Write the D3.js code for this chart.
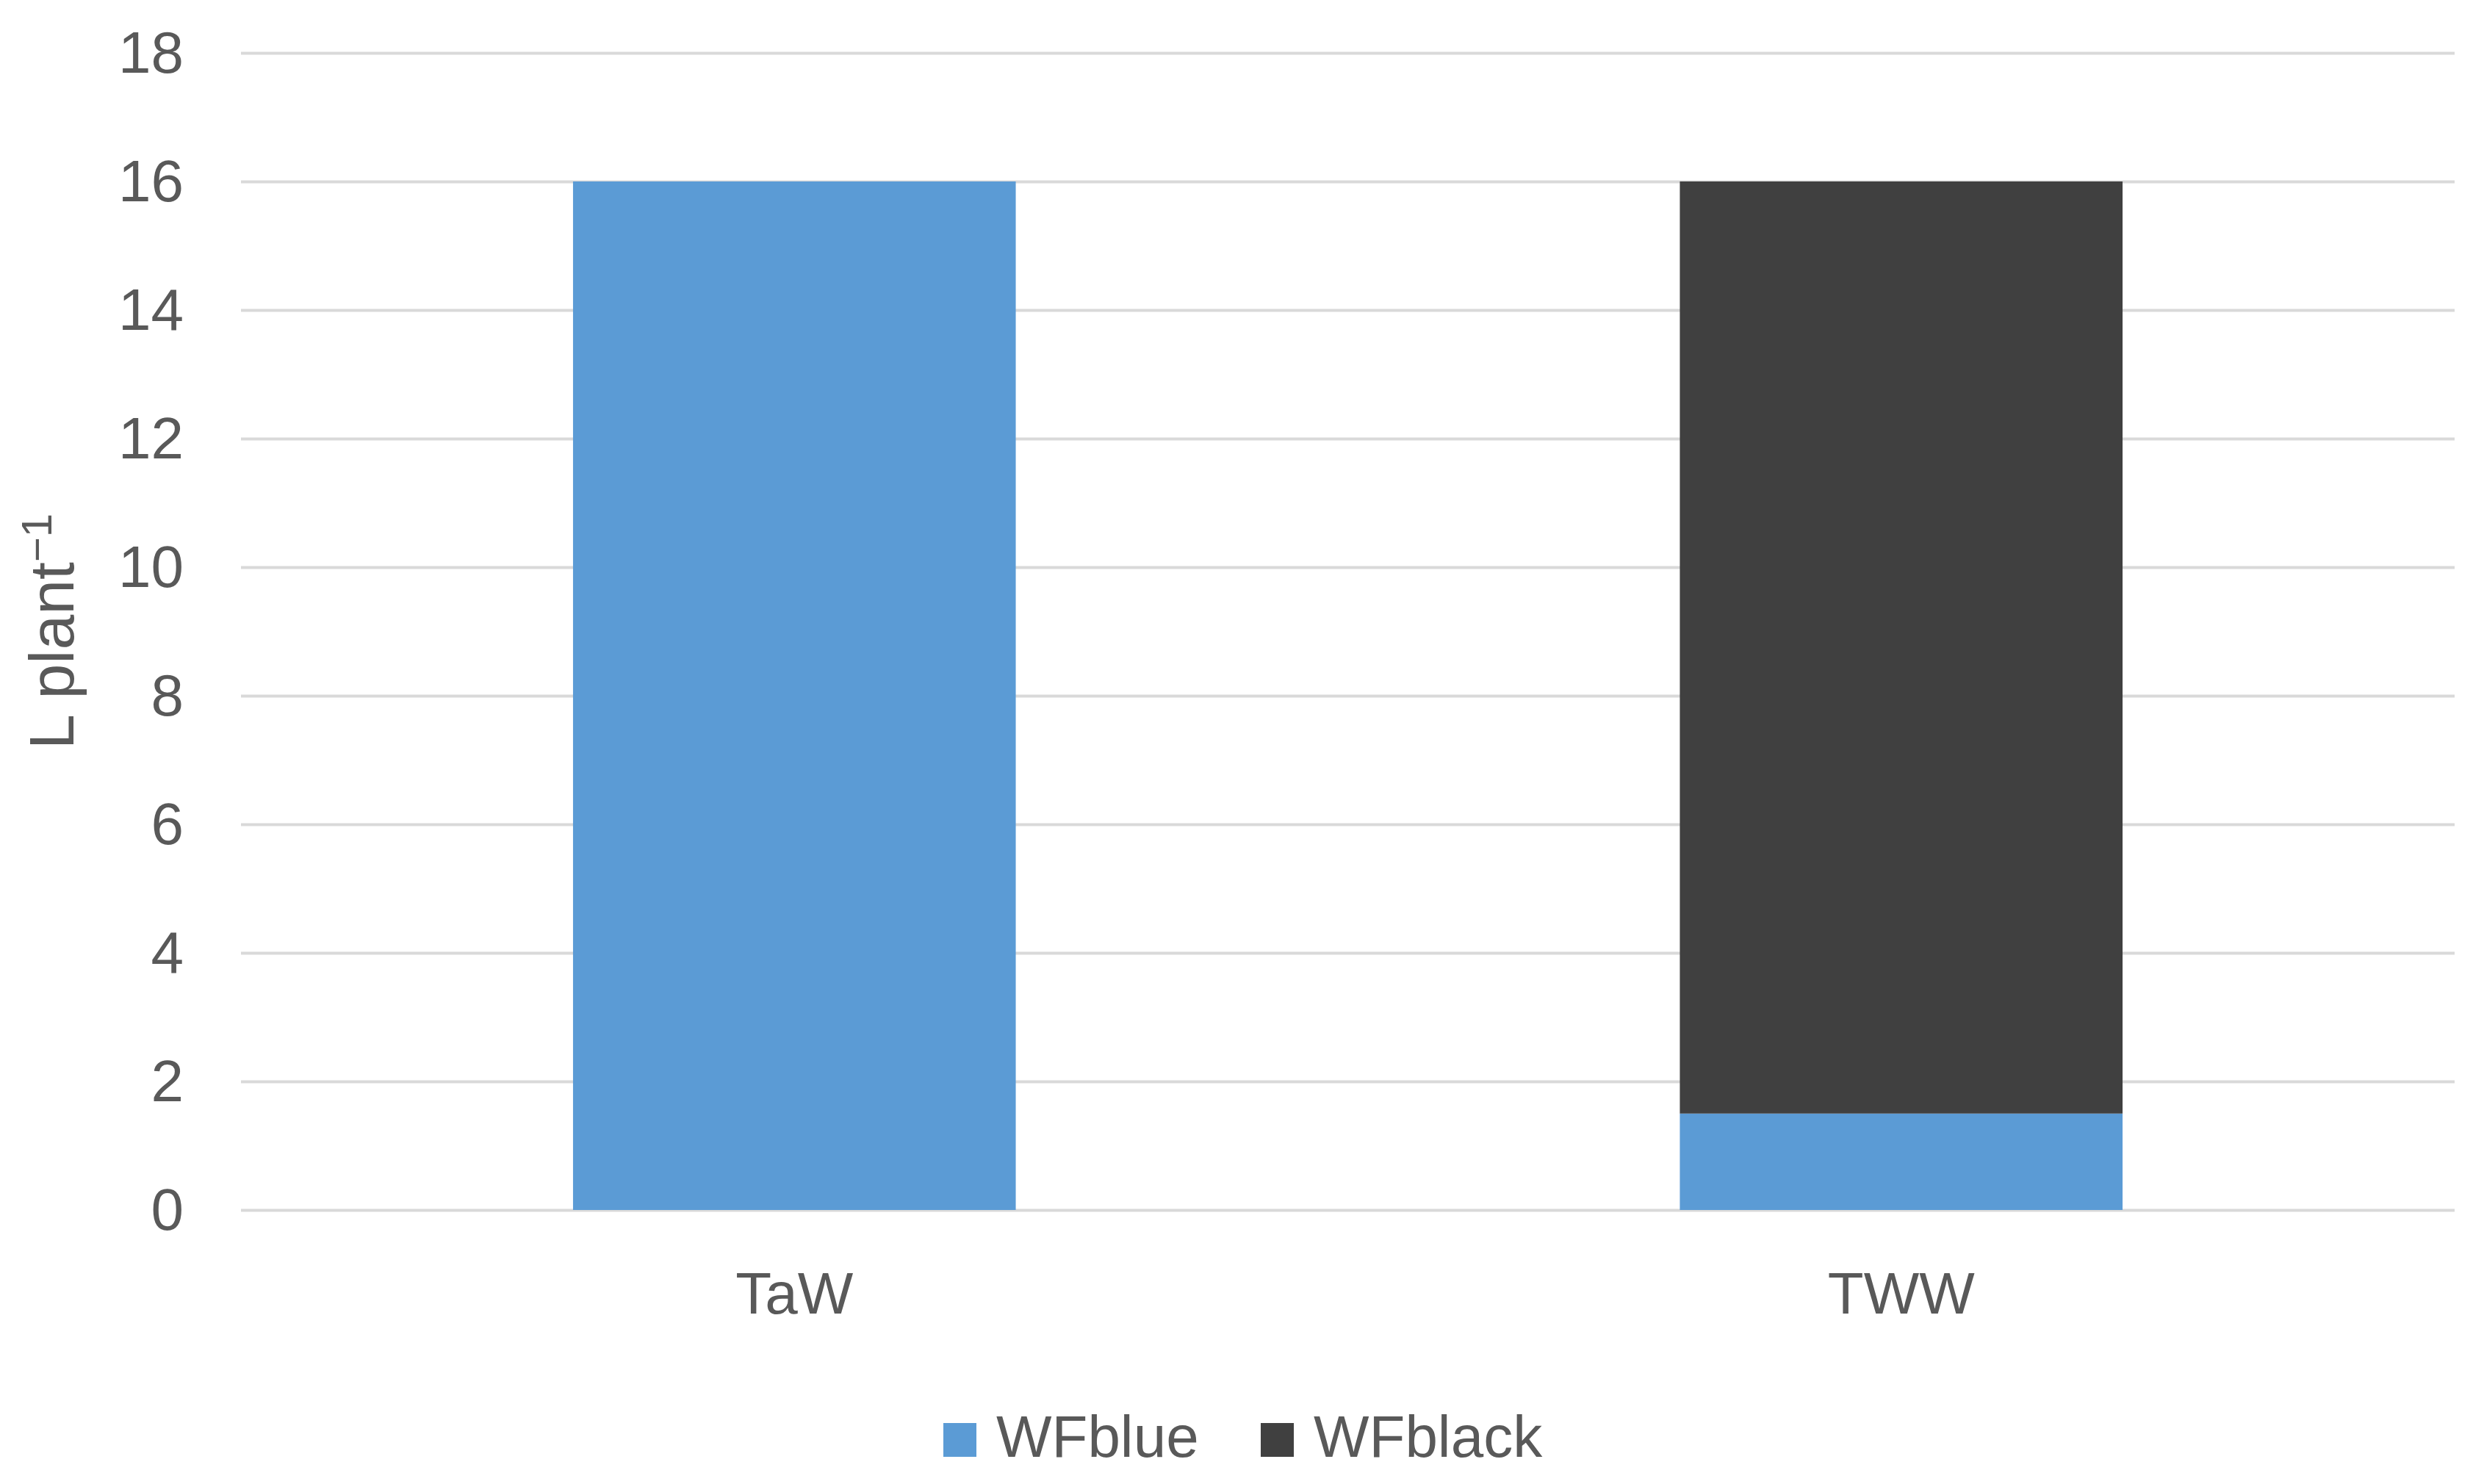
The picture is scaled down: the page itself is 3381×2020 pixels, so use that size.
<!DOCTYPE html>
<html>
<head>
<meta charset="utf-8">
<script src="https://cdn.jsdelivr.net/npm/d3@7"></script>
<style>
  html, body { margin: 0; padding: 0; background: #ffffff; }
  svg { display: block; }
</style>
</head>
<body>
<svg id="chart" width="3381" height="2020"></svg>
<script>
// ---- data ----
const categories = ["TaW", "TWW"];
const seriesNames = ["WFblue", "WFblack"];
const wfBlue = [16, 1.5];
const wfBlack = [0, 14.5];
const yTicks = [0, 2, 4, 6, 8, 10, 12, 14, 16, 18];
const yTitle = "L plant";
const yTitleSup = "\u22121";

// ---- layout ----
const W = 3381, H = 2020;
const plot = { left: 328, right: 3341, top: 72, bottom: 1647 };
const colors = { WFblue: "#5B9BD5", WFblack: "#404040" };
const textColor = "#595959";
const font = "'Liberation Sans', Arial, sans-serif";

const svg = d3.select("#chart");
svg.append("rect").attr("width", W).attr("height", H).attr("fill", "#ffffff");

const x = d3.scaleBand()
  .domain(categories)
  .range([plot.left, plot.right])
  .paddingInner(0.6)
  .paddingOuter(0.3);

const y = d3.scaleLinear()
  .domain([0, 18])
  .range([plot.bottom, plot.top]);

// gridlines + y tick labels via axis
const yAxis = d3.axisLeft(y)
  .tickValues(yTicks)
  .tickSize(-(plot.right - plot.left))
  .tickPadding(78)
  .tickFormat(d3.format("d"));

const gY = svg.append("g")
  .attr("transform", `translate(${plot.left},0)`)
  .call(yAxis);
gY.select(".domain").remove();
gY.selectAll(".tick line")
  .attr("stroke", "#D9D9D9")
  .attr("stroke-width", 4);
gY.selectAll(".tick text")
  .attr("fill", textColor)
  .attr("font-family", font)
  .attr("font-size", 80)
  .attr("dy", "0.33em");

// stacked data
const table = categories.map((c, i) => ({ cat: c, WFblue: wfBlue[i], WFblack: wfBlack[i] }));
const stack = d3.stack().keys(seriesNames)(table);

svg.append("g").selectAll("g")
  .data(stack)
  .join("g")
  .attr("fill", d => colors[d.key])
  .selectAll("rect")
  .data(d => d.filter(s => s[1] - s[0] > 0))
  .join("rect")
  .attr("x", d => x(d.data.cat))
  .attr("width", x.bandwidth())
  .attr("y", d => y(d[1]))
  .attr("height", d => y(d[0]) - y(d[1]));

// x axis labels
const xAxis = d3.axisBottom(x).tickSize(0).tickPadding(0);
const gX = svg.append("g")
  .attr("transform", `translate(0,${plot.bottom})`)
  .call(xAxis);
gX.select(".domain").remove();
gX.selectAll(".tick text")
  .attr("fill", textColor)
  .attr("font-family", font)
  .attr("font-size", 80)
  .attr("dy", 0)
  .attr("y", 141);

// y title
const title = svg.append("text")
  .attr("transform", `translate(100,${(plot.top + plot.bottom) / 2}) rotate(-90)`)
  .attr("text-anchor", "middle")
  .attr("fill", textColor)
  .attr("font-family", font)
  .attr("font-size", 86);
title.append("tspan").text(yTitle);
title.append("tspan").text(yTitleSup)
  .attr("font-size", 58)
  .attr("dy", -30);

// legend
const legendItems = [
  { key: "WFblue", sx: 1284, tx: 1356 },
  { key: "WFblack", sx: 1716, tx: 1788 }
];
const lg = svg.append("g");
legendItems.forEach(it => {
  lg.append("rect")
    .attr("x", it.sx).attr("y", 1937)
    .attr("width", 45).attr("height", 46)
    .attr("fill", colors[it.key]);
  lg.append("text")
    .attr("x", it.tx).attr("y", 1983)
    .attr("fill", textColor)
    .attr("font-family", font)
    .attr("font-size", 80)
    .text(it.key);
});
</script>
</body>
</html>
